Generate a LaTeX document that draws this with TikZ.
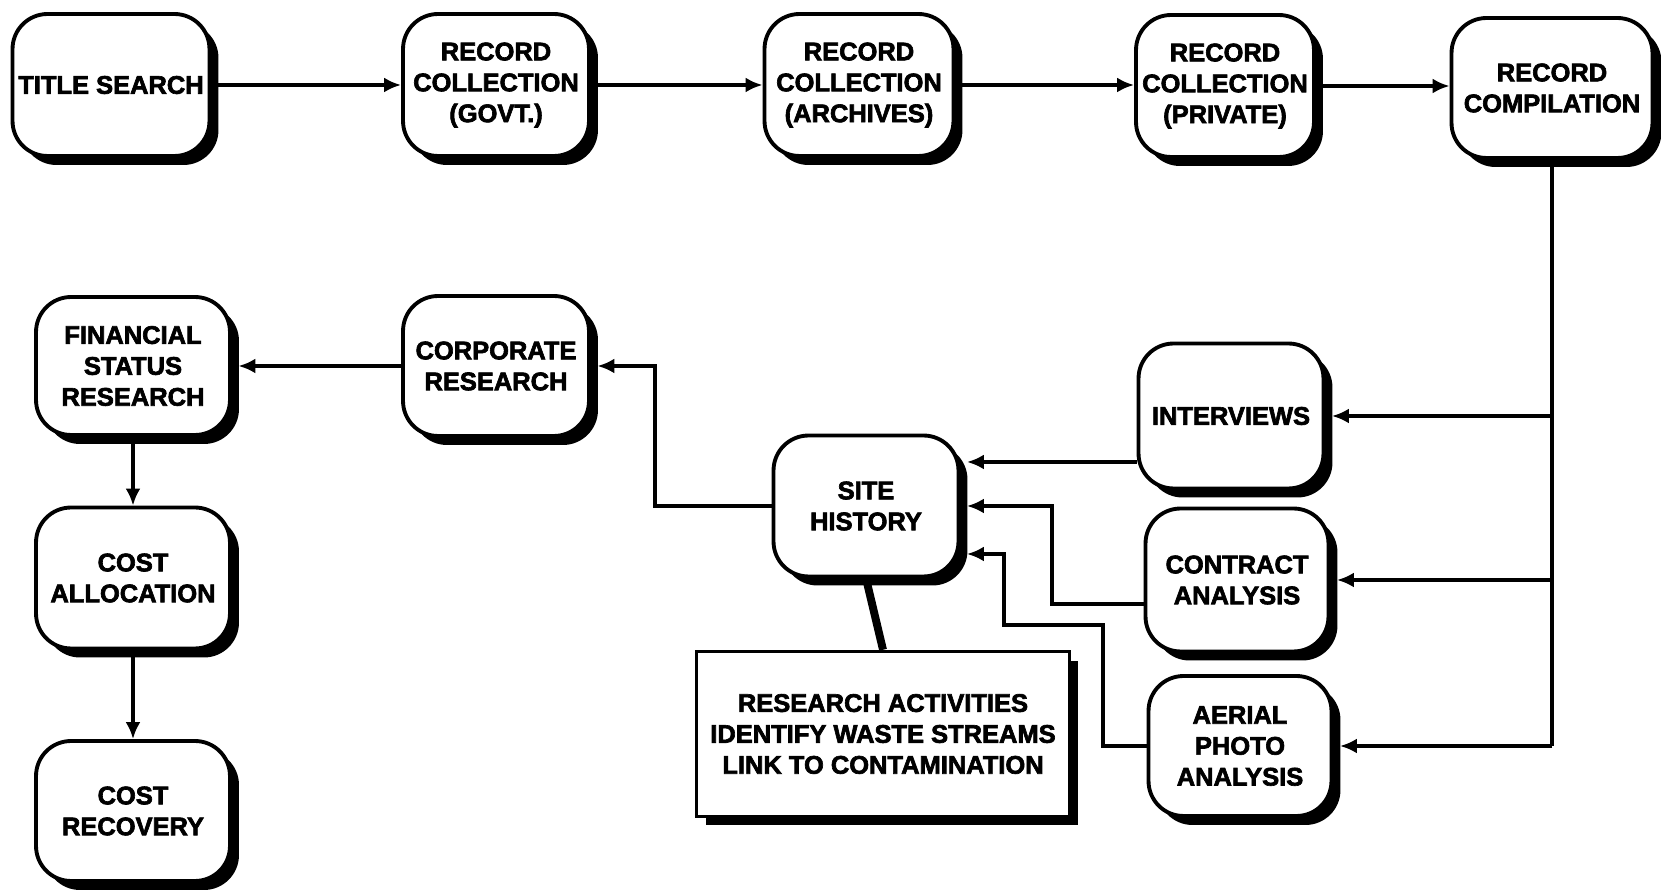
\documentclass[tikz,border=0pt]{standalone}
\usepackage{fontspec}
\setmainfont{Liberation Sans}
\newfontfamily\heavyfont{Liberation Sans Bold}[FakeBold=2.5]
\usetikzlibrary{positioning,calc,shadows,arrows.meta}
\tikzset{
  stage/.style={draw, line width=2.2pt, fill=white, rounded corners=0.7cm, align=center,
    inner sep=0pt, minimum width=3.72cm, minimum height=2.84cm,
    font=\fontsize{14.5}{17.6}\heavyfont\bfseries,
    drop shadow={shadow xshift=0.18cm, shadow yshift=-0.18cm, fill=black, opacity=1}},
  notebox/.style={draw, line width=2pt, fill=white, align=center, inner sep=0pt,
    minimum width=7.46cm, minimum height=3.3cm,
    font=\fontsize{14.5}{17.6}\heavyfont\bfseries,
    drop shadow={shadow xshift=0.18cm, shadow yshift=-0.18cm, fill=black, opacity=1}},
  arr/.style={line width=2.2pt, -{Latex[length=0.34cm,width=0.3cm]}},
  arrin/.style={arr, shorten >=0.13cm},
}
\begin{document}
\begin{tikzpicture}[x=0.02cm, y=-0.02cm]
    \useasboundingbox (0,0) rectangle (1661,891);

    \node[stage, minimum width=3.94cm] (title) at (111,85) {TITLE SEARCH};
    \node[stage] (govt) at (496,85) {RECORD\\COLLECTION\\(GOVT.)};
    \node[stage, minimum width=3.78cm] (arch) at (859,85) {RECORD\\COLLECTION\\(ARCHIVES)};
    \node[stage, minimum width=3.56cm] (priv) at (1225,86) {RECORD\\COLLECTION\\(PRIVATE)};
    \node[stage, minimum width=4.02cm, minimum height=2.8cm] (comp) at (1552,88) {RECORD\\COMPILATION};

    \node[stage, minimum width=3.88cm, minimum height=2.76cm] (fin) at (133,366) {FINANCIAL\\STATUS\\RESEARCH};
    \node[stage, minimum height=2.8cm] (corp) at (496,366) {CORPORATE\\RESEARCH};
    \node[stage, minimum width=3.7cm, minimum height=2.9cm] (int) at (1231,416) {INTERVIEWS};
    \node[stage, minimum width=3.7cm, minimum height=2.82cm] (hist) at (866,506) {SITE\\HISTORY};
    \node[stage, minimum width=3.66cm, minimum height=2.86cm] (contr) at (1237,580) {CONTRACT\\ANALYSIS};
    \node[stage, minimum width=3.66cm, minimum height=2.8cm] (aer) at (1240,746) {AERIAL\\PHOTO\\ANALYSIS};
    \node[stage, minimum width=3.88cm, minimum height=2.82cm] (alloc) at (133,578) {COST\\ALLOCATION};
    \node[stage, minimum width=3.88cm, minimum height=2.8cm] (recov) at (133,811) {COST\\RECOVERY};
    \node[notebox] (notes) at (883,734) {RESEARCH ACTIVITIES\\IDENTIFY WASTE STREAMS\\LINK TO CONTAMINATION};

    \draw[arr] (title.east) -- (title.east -| govt.west);
    \draw[arr] (govt.east) -- (govt.east -| arch.west);
    \draw[arr] (arch.east) -- (arch.east -| priv.west);
    \draw[arr] (priv.east) -- (priv.east -| comp.west);

    \draw[line width=2.2pt] (comp.south) -- (comp.south |- aer.east);
    \draw[arrin] (comp.south |- int.east) -- (int.east);
    \draw[arrin] (comp.south |- contr.east) -- (contr.east);
    \draw[arrin] (comp.south |- aer.east) -- (aer.east);

    \draw[arrin] ([yshift=-0.92cm]int.west) coordinate (iw) -- (iw -| hist.east);
    \draw[arrin] ([yshift=-0.48cm]contr.west) -- ++(-92,0) |- (hist.east);
    \draw[arrin] (aer.west) -- ++(-44,0) -- ++(0,-121) -- ++(-99,0) |- ([yshift=-0.96cm]hist.east);
    \draw[arrin] (hist.west) -- ++(-117,0) |- (corp.east);
    \draw[arrin] (corp.west) -- (fin.east);
    \draw[arr] (fin.south) -- (alloc.north);
    \draw[arr] (alloc.south) -- (recov.north);
    \draw[line width=4.5pt] (hist.south) -- (notes.north);
\end{tikzpicture}
\end{document}
